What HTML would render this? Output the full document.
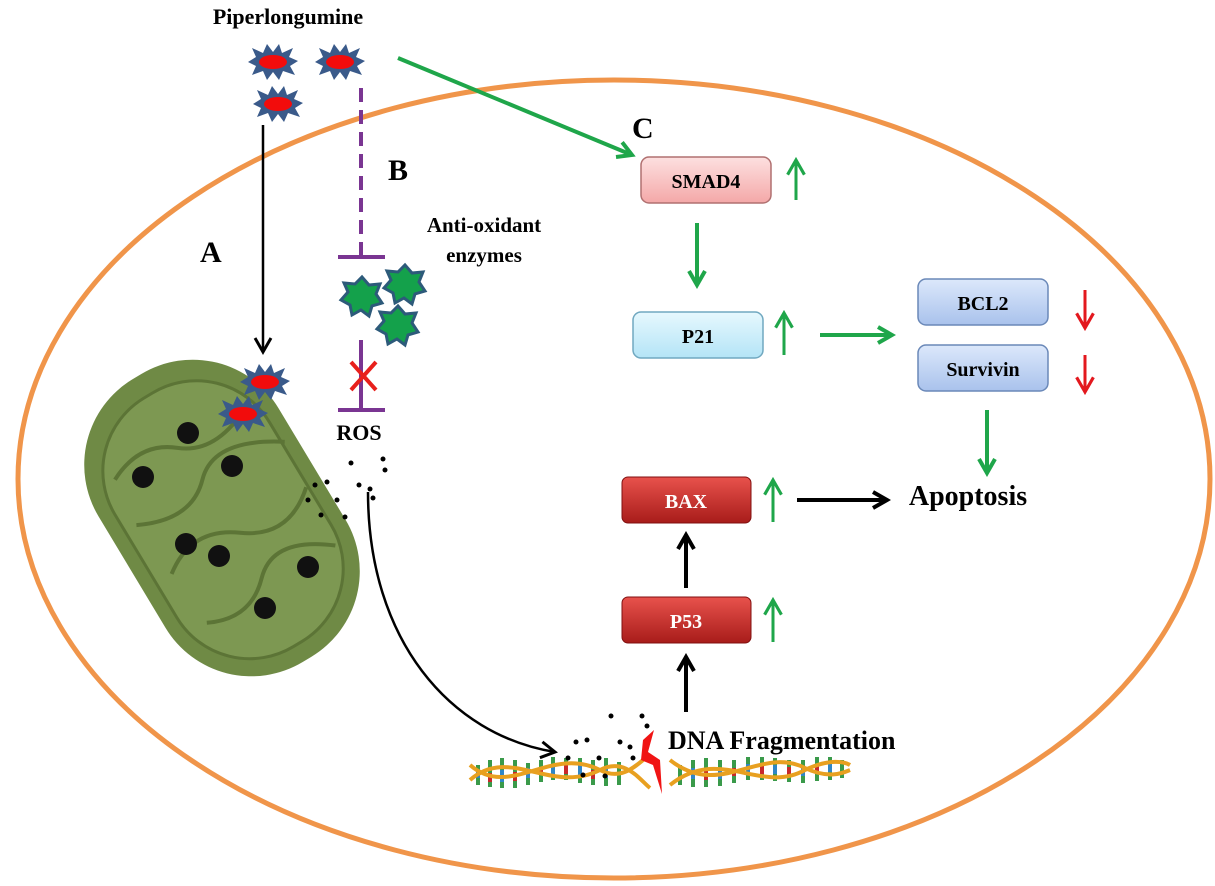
<!DOCTYPE html>
<html><head><meta charset="utf-8"><style>
html,body{margin:0;padding:0;background:#fff}
svg{display:block}
text{font-family:"Liberation Serif",serif;font-weight:bold}
</style></head><body>
<svg width="1215" height="886" viewBox="0 0 1215 886" xmlns="http://www.w3.org/2000/svg">
<defs>
<marker id="ab" viewBox="0 0 10 10" refX="8" refY="5" markerWidth="5" markerHeight="5" orient="auto"><path d="M1,1 L8,5 L1,9" fill="none" stroke="#000" stroke-width="2"/></marker>
<marker id="ag" viewBox="0 0 10 10" refX="8" refY="5" markerWidth="5" markerHeight="5" orient="auto"><path d="M1,1 L8,5 L1,9" fill="none" stroke="#1fa64a" stroke-width="2"/></marker>
<marker id="agS" viewBox="0 0 10 10" refX="8" refY="5" markerWidth="7" markerHeight="7" orient="auto"><path d="M1,1 L8,5 L1,9" fill="none" stroke="#1fa64a" stroke-width="1.5"/></marker>
<marker id="arS" viewBox="0 0 10 10" refX="8" refY="5" markerWidth="7" markerHeight="7" orient="auto"><path d="M1,1 L8,5 L1,9" fill="none" stroke="#e3181e" stroke-width="1.5"/></marker>
<marker id="abS" viewBox="0 0 10 10" refX="8" refY="5" markerWidth="8" markerHeight="8" orient="auto"><path d="M1,1 L8,5 L1,9" fill="none" stroke="#000" stroke-width="1.5"/></marker>
<linearGradient id="gp" x1="0" y1="0" x2="0" y2="1"><stop offset="0" stop-color="#fde0e0"/><stop offset="1" stop-color="#f4a8a8"/></linearGradient>
<linearGradient id="gc" x1="0" y1="0" x2="0" y2="1"><stop offset="0" stop-color="#e6f8fe"/><stop offset="1" stop-color="#b4e4f6"/></linearGradient>
<linearGradient id="gb" x1="0" y1="0" x2="0" y2="1"><stop offset="0" stop-color="#dce8fb"/><stop offset="1" stop-color="#a9c2ec"/></linearGradient>
<linearGradient id="gr" x1="0" y1="0" x2="0" y2="1"><stop offset="0" stop-color="#e8524c"/><stop offset="1" stop-color="#a81c1a"/></linearGradient>
<g id="burst"><polygon points="-25,0 -17,-5 -21,-14 -10,-9 -6,-18 0,-10 6,-18 9,-9 20,-14 16,-5 25,-1 17,4 22,13 10,9 6,18 0,10 -6,18 -10,9 -21,13 -17,4" fill="#3a5a8a"/><ellipse cx="0" cy="0" rx="14" ry="7" fill="#f20c0c"/></g>
<g id="star"><polygon points="0,-20 7,-12 18,-13 14,-3 20,6 10,9 7,19 -1,13 -10,18 -12,8 -21,3 -14,-5 -18,-14 -7,-13" fill="#14a14b" stroke="#2d5a7a" stroke-width="3"/></g>
</defs>
<ellipse cx="614" cy="479" rx="596" ry="399" fill="none" stroke="#f0954a" stroke-width="5"/>
<text x="288" y="24" font-size="22" text-anchor="middle">Piperlongumine</text>
<use href="#burst" x="273" y="62"/><use href="#burst" x="340" y="62"/><use href="#burst" x="278" y="104"/>
<line x1="263" y1="125" x2="263" y2="352" stroke="#000" stroke-width="2.5" marker-end="url(#abS)"/>
<text x="200" y="262" font-size="30">A</text>
<line x1="361" y1="88" x2="361" y2="257" stroke="#7a3592" stroke-width="4" stroke-dasharray="14,8"/>
<line x1="338" y1="257" x2="385" y2="257" stroke="#7a3592" stroke-width="4"/>
<text x="388" y="180" font-size="30">B</text>
<use href="#star" x="362" y="297"/><use href="#star" x="405" y="285"/><use href="#star" x="398" y="326"/>
<line x1="361" y1="340" x2="361" y2="410" stroke="#7a3592" stroke-width="4"/>
<line x1="338" y1="410" x2="385" y2="410" stroke="#7a3592" stroke-width="4"/>
<path d="M351,362 L376,390 M376,362 L351,390" stroke="#e8201c" stroke-width="4"/>
<text x="359" y="440" font-size="22" text-anchor="middle">ROS</text>
<text x="484" y="232" font-size="21" text-anchor="middle">Anti-oxidant</text>
<text x="484" y="262" font-size="21" text-anchor="middle">enzymes</text>
<line x1="398" y1="58" x2="632" y2="155" stroke="#1fa64a" stroke-width="4" marker-end="url(#ag)"/>
<text x="632" y="138" font-size="30">C</text>
<!-- mitochondrion -->
<g transform="rotate(-31 222 518)">
<rect x="117" y="353" width="210" height="330" rx="100" fill="#6f8a45"/>
<rect x="132" y="375" width="180" height="290" rx="85" fill="#7d9852" stroke="#5c7436" stroke-width="3"/>
<path d="M150,430 q40,-20 70,5 t80,0 M145,480 q50,25 80,-5 t90,10 M150,540 q40,-30 80,0 t80,-5 M155,600 q40,20 70,-10 t80,10" fill="none" stroke="#5c7436" stroke-width="4"/>
</g>
<g fill="#111"><circle cx="188" cy="433" r="11"/><circle cx="232" cy="466" r="11"/><circle cx="143" cy="477" r="11"/><circle cx="186" cy="544" r="11"/><circle cx="219" cy="556" r="11"/><circle cx="308" cy="567" r="11"/><circle cx="265" cy="608" r="11"/></g>
<use href="#burst" x="265" y="382"/><use href="#burst" x="243" y="414"/>
<g fill="#000"><circle cx="351" cy="463" r="2.5"/><circle cx="383" cy="459" r="2.5"/><circle cx="385" cy="470" r="2.5"/><circle cx="315" cy="485" r="2.5"/><circle cx="327" cy="482" r="2.5"/><circle cx="359" cy="485" r="2.5"/><circle cx="370" cy="489" r="2.5"/><circle cx="308" cy="500" r="2.5"/><circle cx="337" cy="500" r="2.5"/><circle cx="373" cy="498" r="2.5"/><circle cx="321" cy="515" r="2.5"/><circle cx="345" cy="517" r="2.5"/></g>
<path d="M368,492 C368,640 450,735 555,752" fill="none" stroke="#000" stroke-width="2.5" marker-end="url(#abS)"/>
<!-- DNA -->
<g>
<g stroke-width="4"><path d="M478,785 L478,765 M490,787 L490,760 M502,788 L502,758 M515,788 L515,760 M528,785 L528,763 M541,782 L541,760 M553,780 L553,757 M566,780 L566,758 M580,783 L580,758 M593,785 L593,760 M606,786 L606,758 M619,785 L619,762 M680,785 L680,765 M693,787 L693,760 M706,787 L706,758 M720,786 L720,760 M734,783 L734,760 M748,780 L748,757 M762,780 L762,757 M775,781 L775,758 M789,782 L789,760 M803,783 L803,760 M817,781 L817,757 M830,780 L830,757 M842,778 L842,760" stroke="#3a9a4a"/>
<path d="M478,778 L478,770 M502,782 L502,770 M528,778 L528,768 M553,775 L553,764 M580,777 L580,765 M606,778 L606,768 M693,779 L693,768 M720,779 L720,768 M748,775 L748,764 M775,774 L775,765 M803,776 L803,766 M830,772 L830,764" stroke="#2f86c6"/>
<path d="M490,782 L490,773 M515,781 L515,772 M541,775 L541,768 M566,774 L566,765 M593,779 L593,770 M706,780 L706,770 M734,776 L734,768 M762,774 L762,765 M789,775 L789,767 M817,774 L817,766" stroke="#c8282a"/></g>
<path d="M470,780 C510,745 550,795 600,770 C625,757 640,780 650,788 M470,765 C510,800 550,745 600,770 C625,783 640,760 650,755" fill="none" stroke="#e8a020" stroke-width="4"/>
<path d="M670,785 C720,745 760,795 805,770 C830,758 845,762 850,765 M670,760 C720,800 760,745 805,768 C830,780 845,772 850,770" fill="none" stroke="#e8a020" stroke-width="4"/>
<polygon points="643,740 654,730 648,752 660,760 662,794 653,765 641,760" fill="#f01414"/>
</g>
<g fill="#000"><circle cx="611" cy="716" r="2.5"/><circle cx="642" cy="716" r="2.5"/><circle cx="576" cy="742" r="2.5"/><circle cx="587" cy="740" r="2.5"/><circle cx="620" cy="742" r="2.5"/><circle cx="647" cy="726" r="2.5"/><circle cx="630" cy="747" r="2.5"/><circle cx="568" cy="758" r="2.5"/><circle cx="599" cy="758" r="2.5"/><circle cx="633" cy="758" r="2.5"/><circle cx="583" cy="775" r="2.5"/><circle cx="605" cy="776" r="2.5"/></g>
<text x="668" y="749" font-size="26">DNA Fragmentation</text>
<!-- boxes -->
<rect x="641" y="157" width="130" height="46" rx="8" fill="url(#gp)" stroke="#b07070" stroke-width="1.5"/>
<text x="706" y="188" font-size="20" text-anchor="middle">SMAD4</text>
<rect x="633" y="312" width="130" height="46" rx="8" fill="url(#gc)" stroke="#70a8c0" stroke-width="1.5"/>
<text x="698" y="343" font-size="20" text-anchor="middle">P21</text>
<rect x="918" y="279" width="130" height="46" rx="8" fill="url(#gb)" stroke="#6a88b8" stroke-width="1.5"/>
<text x="983" y="310" font-size="20" text-anchor="middle">BCL2</text>
<rect x="918" y="345" width="130" height="46" rx="8" fill="url(#gb)" stroke="#6a88b8" stroke-width="1.5"/>
<text x="983" y="376" font-size="20" text-anchor="middle">Survivin</text>
<rect x="622" y="477" width="129" height="46" rx="6" fill="url(#gr)" stroke="#801010" stroke-width="1"/>
<text x="686" y="508" font-size="20" text-anchor="middle" fill="#fff">BAX</text>
<rect x="622" y="597" width="129" height="46" rx="6" fill="url(#gr)" stroke="#801010" stroke-width="1"/>
<text x="686" y="628" font-size="20" text-anchor="middle" fill="#fff">P53</text>
<text x="968" y="505" font-size="28" text-anchor="middle">Apoptosis</text>
<!-- arrows -->
<g stroke="#1fa64a" stroke-width="3">
<line x1="796" y1="200" x2="796" y2="160" marker-end="url(#agS)"/>
<line x1="784" y1="355" x2="784" y2="313" marker-end="url(#agS)"/>
<line x1="773" y1="522" x2="773" y2="480" marker-end="url(#agS)"/>
<line x1="773" y1="642" x2="773" y2="600" marker-end="url(#agS)"/>
</g>
<g stroke="#1fa64a" stroke-width="4">
<line x1="697" y1="223" x2="697" y2="285" marker-end="url(#ag)"/>
<line x1="820" y1="335" x2="892" y2="335" marker-end="url(#ag)"/>
<line x1="987" y1="410" x2="987" y2="473" marker-end="url(#ag)"/>
</g>
<g stroke="#e3181e" stroke-width="3">
<line x1="1085" y1="290" x2="1085" y2="328" marker-end="url(#arS)"/>
<line x1="1085" y1="355" x2="1085" y2="392" marker-end="url(#arS)"/>
</g>
<g stroke="#000" stroke-width="4">
<line x1="797" y1="500" x2="887" y2="500" marker-end="url(#ab)"/>
<line x1="686" y1="588" x2="686" y2="535" marker-end="url(#ab)"/>
<line x1="686" y1="712" x2="686" y2="657" marker-end="url(#ab)"/>
</g>
</svg>
</body></html>
